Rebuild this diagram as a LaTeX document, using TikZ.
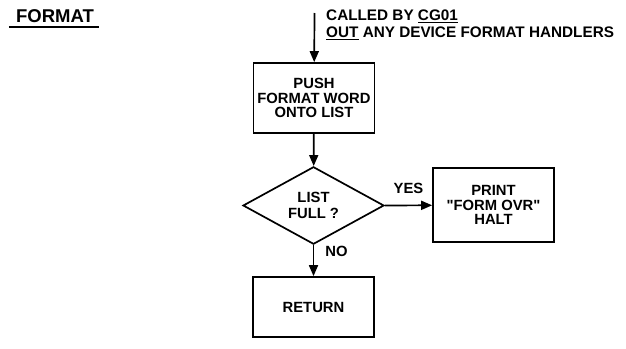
\documentclass[tikz,border=0pt]{standalone}
\usepackage{fontspec}
\setmainfont{Liberation Sans}
\usepackage{tikz}
\usetikzlibrary{arrows.meta,shapes.geometric}

\begin{document}
\begin{tikzpicture}[x=1pt,y=-1pt,
proc/.style={draw,line width=1.7pt,align=center,inner sep=0pt,minimum width=121pt,font=\bfseries\fontsize{14.8}{14.5}\selectfont},
decide/.style={draw,line width=1.7pt,diamond,align=center,inner sep=0pt,minimum width=141pt,minimum height=69pt,font=\bfseries\fontsize{14.8}{16}\selectfont},
flow/.style={-{Triangle[length=11pt,width=9pt]},line width=1.7pt},
lbl/.style={font=\bfseries\fontsize{14.8}{14}\selectfont,inner sep=0pt}]
\useasboundingbox (0,0) rectangle (626,348);
\node[font=\bfseries\fontsize{18.5}{18}\selectfont,inner sep=0pt] (title) at (55,16.5) {FORMAT};
\draw[line width=1.8pt] ([yshift=-4pt]title.south west) ++(-7pt,0) -- ([yshift=-4pt,xshift=5pt]title.south east);
\node[lbl,anchor=north west,align=left,font=\bfseries\fontsize{15.3}{17}\selectfont] (call) at (326,9.5) {CALLED BY \underline{CG01}\\\underline{OUT} ANY DEVICE FORMAT HANDLERS};
\coordinate (entry) at (314.5,13);
\node[proc,minimum height=70pt] (push) at (314,98) {PUSH\\FORMAT WORD\\ONTO LIST};
\node[decide] (full) at (313.5,205.5) {LIST\\FULL ?};
\node[proc,minimum height=74pt] (halt) at (493.5,205) {PRINT\\\textquotedbl FORM OVR\textquotedbl\\HALT};
\node[proc,minimum height=60pt] (ret) at (313.5,307) {RETURN};
\draw[flow] (entry)--(push);
\draw[flow] (push)--(full);
\draw[flow] (full.east)--node[lbl,above=11pt]{YES}(halt);
\draw[flow] (full.south)--node[lbl,right=11pt,pos=0.2]{NO}(ret);
\end{tikzpicture}
\end{document}
